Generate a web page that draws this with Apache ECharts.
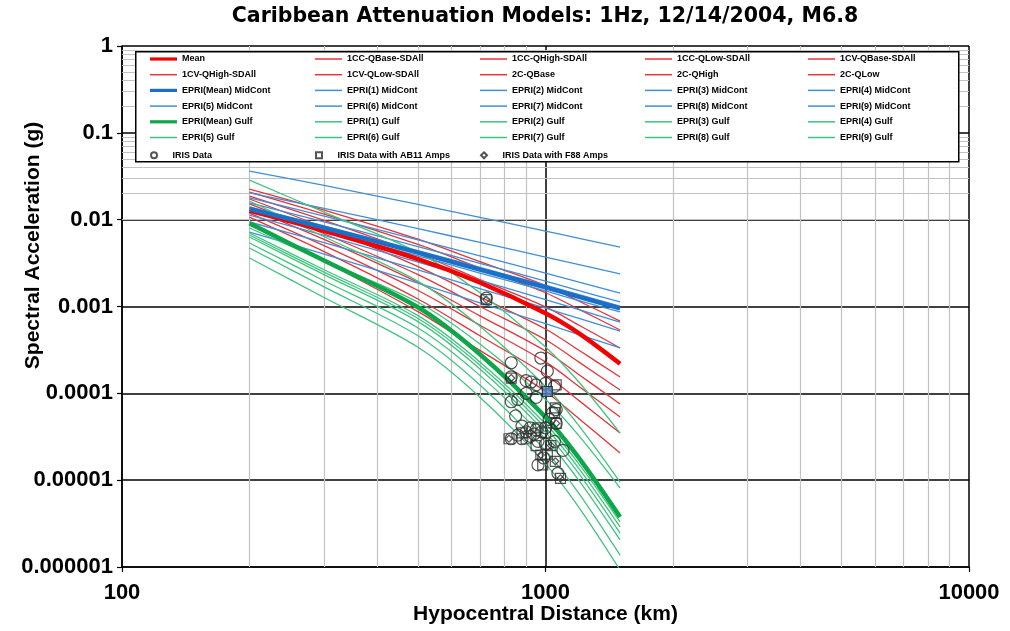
<!DOCTYPE html>
<html>
<head>
<meta charset="utf-8">
<script src="https://cdn.jsdelivr.net/npm/echarts@6/dist/echarts.min.js"></script>
<style>html,body{margin:0;padding:0;background:#fff}#chart{width:1010px;height:631px}</style>
</head>
<body>
<div id="chart"></div>
<script>
// ---------- DATA ----------
const distances = [200, 300, 500, 700, 1000, 1200, 1500];

// Red: Caribbean models
const redMean   = [0.0127, 0.00745, 0.00352, 0.00189, 0.000835, 0.000490, 0.000219];
const cc_QBase  = [0.0152, 0.00688, 0.00233, 0.00100, 0.000414, 0.000229, 0.000109];
const cc_QHigh  = [0.0208, 0.0116, 0.00518, 0.00278, 0.00144, 0.000928, 0.000536];
const cc_QLow   = [0.0107, 0.00429, 0.00122, 0.000460, 0.000164, 0.0000824, 0.0000349];
const cv_QBase  = [0.0173, 0.00813, 0.00288, 0.00129, 0.000551, 0.000313, 0.000154];
const cv_QHigh  = [0.0225, 0.0129, 0.00596, 0.00329, 0.00175, 0.00115, 0.000680];
const cv_QLow   = [0.0119, 0.00502, 0.00153, 0.000609, 0.000230, 0.000120, 0.0000534];
const c2_QBase  = [0.0136, 0.00593, 0.00189, 0.000781, 0.000307, 0.000164, 0.0000753];
const c2_QHigh  = [0.0187, 0.00983, 0.00405, 0.00204, 0.000988, 0.000609, 0.000333];
const c2_QLow   = [0.00868, 0.00330, 0.000872, 0.000312, 0.000105, 0.0000509, 0.0000205];

// Blue: EPRI MidCont
const midMean = [0.0133, 0.00804, 0.00417, 0.00266, 0.00166, 0.00129, 0.000953];
const mid1 = [0.0140, 0.00850, 0.00441, 0.00282, 0.00176, 0.00137, 0.00101];
const mid2 = [0.0363, 0.0248, 0.0150, 0.0106, 0.00740, 0.00610, 0.00484];
const mid3 = [0.00940, 0.00543, 0.00264, 0.00161, 0.000959, 0.000728, 0.000522];
const mid4 = [0.0178, 0.0110, 0.00586, 0.00382, 0.00243, 0.00191, 0.00143];
const mid5 = [0.0122, 0.00740, 0.00382, 0.00243, 0.00151, 0.00117, 0.000865];
const mid6 = [0.0203, 0.0135, 0.00788, 0.00547, 0.00371, 0.00303, 0.00237];
const mid7 = [0.00721, 0.00402, 0.00186, 0.00110, 0.000635, 0.000474, 0.000333];
const mid8 = [0.0156, 0.00945, 0.00490, 0.00314, 0.00196, 0.00152, 0.00113];
const mid9 = [0.0113, 0.00660, 0.00325, 0.00200, 0.00120, 0.000918, 0.000662];

// Green: EPRI Gulf
const gulfMean = [0.00908, 0.00338, 0.000979, 0.000282, 0.0000532, 0.0000179, 0.00000376];
const gulf1 = [0.00702, 0.00265, 0.000784, 0.000230, 0.0000446, 0.0000153, 0.0000033];
const gulf2 = [0.0286, 0.0122, 0.00420, 0.00144, 0.000342, 0.000134, 0.0000349];
const gulf3 = [0.00539, 0.00198, 0.000566, 0.000161, 0.0000298, 0.00000988, 0.00000205];
const gulf4 = [0.00802, 0.00334, 0.00112, 0.000370, 0.0000847, 0.0000323, 0.00000812];
const gulf5 = [0.00666, 0.00249, 0.000727, 0.000211, 0.0000402, 0.0000136, 0.00000289];
const gulf6 = [0.0164, 0.00636, 0.00195, 0.000591, 0.000120, 0.0000423, 0.00000952];
const gulf7 = [0.00362, 0.00127, 0.000339, 0.0000903, 0.0000154, 0.00000483, 0.000000923];
const gulf8 = [0.00631, 0.00233, 0.000669, 0.000191, 0.0000355, 0.0000118, 0.00000246];
const gulf9 = [0.00472, 0.00168, 0.000460, 0.000125, 0.0000219, 0.00000700, 0.00000137];

// IRIS observations [distance km, SA g]
const irisData = [
  [725, 0.00125], [830, 0.000225], [975, 0.000255], [1010, 0.00018], [830, 0.000155],
  [900, 0.00014], [925, 0.000135], [950, 0.000125], [1000, 0.00013], [1050, 0.00012],
  [860, 0.000085], [830, 0.00008], [900, 0.0001], [950, 0.00009], [1060, 0.000065],
  [850, 0.000055], [1060, 0.000045], [880, 0.000042], [920, 0.00004], [950, 0.000038],
  [980, 0.000036], [900, 0.000036], [860, 0.000033], [940, 0.000034], [1000, 0.00004],
  [1020, 0.00005], [960, 0.000028], [880, 0.00003], [1100, 0.000022], [1000, 0.000026],
  [1050, 0.000028], [1070, 0.000012], [990, 0.000018], [960, 0.000015], [920, 0.000032],
  [1040, 0.00006], [830, 0.00003]
];
const irisAB11 = [
  [725, 0.0012], [830, 0.00015], [1060, 0.000125], [1055, 0.000068], [1060, 0.000045],
  [820, 0.00003], [1030, 0.000025], [975, 0.0000195], [1055, 0.0000165], [985, 0.000015],
  [1085, 0.0000105], [880, 0.000035], [960, 0.00004], [1000, 0.000035], [900, 0.00003],
  [1050, 0.00006], [950, 0.000025], [1010, 0.00002]
];
const irisAB11Highlight = [1010, 0.000105];
const irisF88 = [
  [725, 0.0012], [830, 0.00015], [1060, 0.000045], [1055, 0.0000165], [1085, 0.0000105],
  [975, 0.0000195], [1030, 0.000025], [820, 0.00003]
];

const xTickLabels = ['100', '1000', '10000'];
const yTickLabels = ['0.000001', '0.00001', '0.0001', '0.001', '0.01', '0.1', '1'];
const xMinorGrid = [200, 300, 400, 500, 600, 700, 800, 900, 2000, 3000, 4000, 5000, 6000, 7000, 8000, 9000];
const yMinorGrid = [
  2e-6, 3e-6, 4e-6, 5e-6, 6e-6, 7e-6, 8e-6, 9e-6,
  2e-5, 3e-5, 4e-5, 5e-5, 6e-5, 7e-5, 8e-5, 9e-5,
  2e-4, 3e-4, 4e-4, 5e-4, 6e-4, 7e-4, 8e-4, 9e-4,
  2e-3, 3e-3, 4e-3, 5e-3, 6e-3, 7e-3, 8e-3, 9e-3,
  0.02, 0.03, 0.04, 0.05, 0.06, 0.07, 0.08, 0.09,
  0.2, 0.3, 0.4, 0.5, 0.6, 0.7, 0.8, 0.9
];

const redModels = [
  ['Mean', redMean], ['1CC-QBase-SDAll', cc_QBase], ['1CC-QHigh-SDAll', cc_QHigh],
  ['1CC-QLow-SDAll', cc_QLow], ['1CV-QBase-SDAll', cv_QBase], ['1CV-QHigh-SDAll', cv_QHigh],
  ['1CV-QLow-SDAll', cv_QLow], ['2C-QBase', c2_QBase], ['2C-QHigh', c2_QHigh], ['2C-QLow', c2_QLow]
];
const blueModels = [
  ['EPRI(Mean) MidCont', midMean], ['EPRI(1) MidCont', mid1], ['EPRI(2) MidCont', mid2],
  ['EPRI(3) MidCont', mid3], ['EPRI(4) MidCont', mid4], ['EPRI(5) MidCont', mid5],
  ['EPRI(6) MidCont', mid6], ['EPRI(7) MidCont', mid7], ['EPRI(8) MidCont', mid8], ['EPRI(9) MidCont', mid9]
];
const greenModels = [
  ['EPRI(Mean) Gulf', gulfMean], ['EPRI(1) Gulf', gulf1], ['EPRI(2) Gulf', gulf2],
  ['EPRI(3) Gulf', gulf3], ['EPRI(4) Gulf', gulf4], ['EPRI(5) Gulf', gulf5],
  ['EPRI(6) Gulf', gulf6], ['EPRI(7) Gulf', gulf7], ['EPRI(8) Gulf', gulf8], ['EPRI(9) Gulf', gulf9]
];
const irisNames = ['IRIS Data', 'IRIS Data with AB11 Amps', 'IRIS Data with F88 Amps'];

// ---------- CHART ----------
const FONT = "'Liberation Sans', Arial, sans-serif";
const C = {
  redThin: '#e3353b', redMean: '#f40000',
  blueThin: '#3f8fd6', blueMean: '#1b6fc6',
  greenThin: '#3fc47e', greenMean: '#0ea64a'
};
const ICON_THIN = 'path://M0 0H27V1.5H0Z';
const ICON_THICK = 'path://M0 0H27V3.2H0Z';
const ICON_SQUARE = 'path://M0 0H10V10H0Z';
const ICON_DIAMOND = 'path://M5 0L10 5L5 10L0 5Z';

function mkLine(name, values, color, width, z) {
  return {
    name, type: 'line', z,
    data: distances.map((d, i) => [d, values[i]]),
    symbol: 'none', smooth: 0.3, clip: true,
    lineStyle: { color, width }, itemStyle: { color },
    emphasis: { disabled: true }, animation: false
  };
}

const series = [];
// helper series: minor gridlines drawn through the axes
series.push({
  type: 'line', data: [], z: 1, silent: true, animation: false,
  markLine: {
    z: 1, silent: true, symbol: ['none', 'none'], label: { show: false }, animation: false,
    lineStyle: { color: '#c2c2c2', width: 1.2, type: 'solid' },
    emphasis: { disabled: true },
    data: xMinorGrid.map(v => ({ xAxis: v })).concat(yMinorGrid.map(v => ({ yAxis: v })))
  }
});
redModels.slice(1).forEach(m => series.push(mkLine(m[0], m[1], C.redThin, 1.3, 2)));
blueModels.slice(1).forEach(m => series.push(mkLine(m[0], m[1], C.blueThin, 1.3, 2)));
greenModels.slice(1).forEach(m => series.push(mkLine(m[0], m[1], C.greenThin, 1.3, 2)));
series.push(mkLine(greenModels[0][0], greenModels[0][1], C.greenMean, 4.5, 3));
series.push(mkLine(redModels[0][0], redModels[0][1], C.redMean, 4.5, 3));
series.push(mkLine(blueModels[0][0], blueModels[0][1], C.blueMean, 4.5, 3));

const hollow = { color: 'rgba(255,255,255,0)', borderColor: '#2a2a2a', borderWidth: 1.2 };
series.push({
  name: irisNames[0], type: 'scatter', z: 5, symbol: 'circle', symbolSize: 12,
  data: irisData, itemStyle: hollow, animation: false
});
series.push({
  name: irisNames[1], type: 'scatter', z: 5, symbol: ICON_SQUARE,
  symbolKeepAspect: true, symbolSize: 10,
  data: irisAB11.concat([{ value: irisAB11Highlight, itemStyle: { color: '#4d86c9', borderColor: '#1a1a1a' } }]),
  itemStyle: hollow, animation: false
});
series.push({
  name: irisNames[2], type: 'scatter', z: 5, symbol: ICON_DIAMOND,
  symbolKeepAspect: true, symbolSize: 7,
  data: irisF88, itemStyle: hollow, animation: false
});

// legend: 5 columns, row-major order as in the reference
const lineLegend = redModels.map(m => m[0]).concat(blueModels.map(m => m[0]), greenModels.map(m => m[0]));
const meanNames = [redModels[0][0], blueModels[0][0], greenModels[0][0]];
const legendText = { fontFamily: FONT, fontSize: 9, fontWeight: 'bold', color: '#000', lineHeight: 10 };
const colLeft = [150, 315, 480, 645, 808];
const legends = [];
colLeft.forEach((lx, c) => {
  const items = lineLegend.filter((n, i) => i % 5 === c).map(n => ({
    name: n, icon: meanNames.indexOf(n) >= 0 ? ICON_THICK : ICON_THIN
  }));
  legends.push({
    data: items, left: lx, top: 54, orient: 'vertical', itemGap: 5.7,
    itemWidth: 27, itemHeight: 10, padding: 0, z: 4, symbolKeepAspect: true,
    selectedMode: false, textStyle: legendText
  });
});
const irisIcons = ['circle', ICON_SQUARE, ICON_DIAMOND];
irisNames.forEach((n, i) => {
  legends.push({
    data: [{ name: n, icon: irisIcons[i] }], left: colLeft[i], top: 150.3, orient: 'horizontal',
    itemWidth: 27, itemHeight: 6, padding: 0, z: 4, symbolKeepAspect: true,
    selectedMode: false, textStyle: legendText
  });
});

const option = {
  backgroundColor: '#fff',
  animation: false,
  title: {
    text: 'Caribbean Attenuation Models: 1Hz, 12/14/2004, M6.8',
    left: 545, top: 6, textAlign: 'center', padding: 0,
    textStyle: { fontFamily: "'DejaVu Sans', sans-serif", fontWeight: 'bold', fontSize: 20.5, color: '#000' }
  },
  grid: { left: 122, right: 41, top: 46, bottom: 64, containLabel: false, outerBoundsMode: 'none' },
  graphic: {
    elements: [{
      type: 'rect', left: 135, top: 51, z: 3, silent: true,
      shape: { width: 823, height: 110 },
      style: { fill: '#fff', stroke: '#000', lineWidth: 1.5 }
    }]
  },
  legend: legends,
  xAxis: {
    type: 'log', logBase: 10, min: 100, max: 10000,
    name: 'Hypocentral Distance (km)', nameLocation: 'middle', nameGap: 37, nameMoveOverlap: false,
    nameTextStyle: { fontFamily: FONT, fontSize: 21, fontWeight: 'bold', color: '#000' },
    axisLine: { show: true, lineStyle: { color: '#000', width: 1.5 } },
    axisTick: { show: true, inside: false, length: 5, lineStyle: { color: '#000', width: 1.2 } },
    axisLabel: {
      fontFamily: FONT, fontSize: 22, fontWeight: 'bold', color: '#000', margin: 15,
      formatter: v => xTickLabels[Math.round(Math.log10(v)) - 2]
    },
    splitLine: { show: true, lineStyle: { color: '#000', width: 1.5 } }
  },
  yAxis: {
    type: 'log', logBase: 10, min: 0.000001, max: 1,
    name: 'Spectral Acceleration (g)', nameLocation: 'middle', nameGap: 78, nameRotate: 90, nameMoveOverlap: false,
    nameTextStyle: { fontFamily: FONT, fontSize: 21, fontWeight: 'bold', color: '#000', padding: [0, 0, 0, 122] },
    axisLine: { show: true, lineStyle: { color: '#000', width: 1.5 } },
    axisTick: { show: true, inside: false, length: 5, lineStyle: { color: '#000', width: 1.2 } },
    axisLabel: {
      fontFamily: FONT, fontSize: 22, fontWeight: 'bold', color: '#000', margin: 9,
      formatter: v => yTickLabels[Math.round(Math.log10(v)) + 6]
    },
    splitLine: { show: true, lineStyle: { color: '#000', width: 1.5 } }
  },
  series
};

const chart = echarts.init(document.getElementById('chart'), null, { renderer: 'canvas' });
chart.setOption(option);
</script>
</body>
</html>
